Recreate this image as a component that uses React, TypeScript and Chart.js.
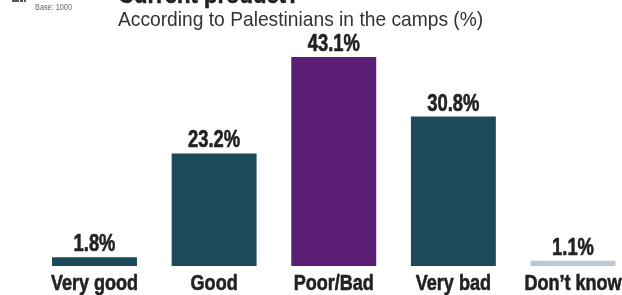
import React, { useEffect, useRef } from "react";
import { Chart, registerables } from "chart.js";

Chart.register(...registerables);

const categories = ["Very good", "Good", "Poor/Bad", "Very bad", "Don\u2019t know"];
const values = [1.8, 23.2, 43.1, 30.8, 1.1];
const barColors = ["#1d4a5a", "#1d4a5a", "#5c1f78", "#1d4a5a", "#b7cad6"];
const titleText = "Current product?";
const subtitleText = "According to Palestinians in the camps (%)";
const baseText = "Base: 1000";

const SANS = "'Liberation Sans', Arial, sans-serif";

function drawNarrow(ctx: any, text: string, x: number, y: number, sx: number, align: string, stroke = 0) {
  ctx.save();
  ctx.translate(x, y);
  ctx.scale(sx, 1);
  ctx.textAlign = align;
  ctx.fillText(text, 0, 0);
  if (stroke > 0) {
    ctx.lineWidth = stroke;
    ctx.strokeStyle = ctx.fillStyle;
    ctx.lineJoin = "round";
    ctx.strokeText(text, 0, 0);
  }
  ctx.restore();
}

const headerPlugin = {
  id: "header",
  afterDatasetsDraw(chart: any) {
    const ctx = chart.ctx;
    ctx.save();
    ctx.textBaseline = "alphabetic";
    // value labels
    const meta = chart.getDatasetMeta(0);
    ctx.font = `bold 23px ${SANS}`;
    ctx.fillStyle = "#222";
    meta.data.forEach((bar: any, i: number) => {
      drawNarrow(ctx, values[i].toFixed(1) + "%", bar.x, bar.y - 6, 0.8, "center", 0.6);
    });
    // category labels from x scale ticks
    const xs = chart.scales.x;
    ctx.font = `bold 22px ${SANS}`;
    categories.forEach((c, i) => {
      drawNarrow(ctx, c, xs.getPixelForTick(i), 290, 0.82, "center", 0.6);
    });
    // title (clipped at top)
    ctx.font = `bold 26px ${SANS}`;
    ctx.fillStyle = "#222";
    drawNarrow(ctx, titleText, 118, 3, 0.85, "left", 0.6);
    // subtitle
    ctx.font = `21px ${SANS}`;
    ctx.fillStyle = "#333";
    drawNarrow(ctx, subtitleText, 118, 26, 0.915, "left");
    // base
    ctx.font = `8.5px ${SANS}`;
    ctx.fillStyle = "#666";
    drawNarrow(ctx, baseText, 35, 10, 0.86, "left");
    // small logo fragment
    ctx.fillStyle = "#555";
    ctx.fillRect(12, 0, 7, 2);
    ctx.fillRect(20, 0, 3, 2);
    ctx.fillRect(24, 0, 2, 2);
    ctx.restore();
  },
};

export default function App() {
  const ref = useRef<HTMLCanvasElement>(null);
  useEffect(() => {
    const chart = new Chart(ref.current!, {
      type: "bar",
      data: {
        labels: categories,
        datasets: [
          {
            data: values,
            backgroundColor: barColors,
            borderWidth: 0,
            categoryPercentage: 0.71,
            barPercentage: 1,
            clip: false as any,
          },
        ],
      },
      options: {
        responsive: false,
        animation: false,
        layout: { padding: { left: 94.5, right: 49, top: 23.5, bottom: 29 } },
        plugins: { legend: { display: false }, tooltip: { enabled: false } },
        scales: {
          y: { display: false, min: 0, max: 50 },
          x: { display: false, offset: false },
        },
      },
      plugins: [headerPlugin],
    });
    return () => chart.destroy();
  }, []);
  return (
    <div style={{ position: "fixed", left: 0, top: 0, width: 622, height: 295, background: "#fff" }}>
      <canvas ref={ref} width={622} height={295} />
    </div>
  );
}
